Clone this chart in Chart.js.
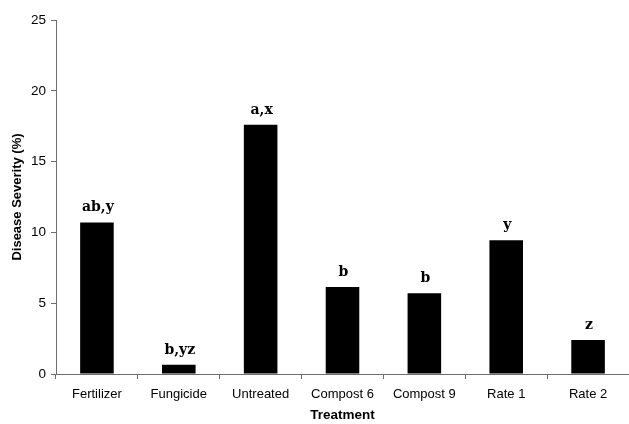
<!DOCTYPE html>
<html>
<head>
<meta charset="utf-8">
<script src="https://cdn.jsdelivr.net/npm/chart.js@4/dist/chart.umd.min.js"></script>
<style>
  html, body { margin: 0; padding: 0; background: #fff; }
  #wrap { width: 629px; height: 424px; position: relative; }
</style>
</head>
<body>
<div id="wrap"><canvas id="c" width="629" height="424"></canvas></div>
<script>
// Treatment groups and mean disease severity (%)
const treatments = ['Fertilizer', 'Fungicide', 'Untreated', 'Compost 6', 'Compost 9', 'Rate 1', 'Rate 2'];
const severity = [10.7, 0.65, 17.6, 6.15, 5.7, 9.45, 2.4];
// Mean-separation letters shown above each bar
const letters = ['ab,y', 'b,yz', 'a,x', 'b', 'b', 'y', 'z'];
const yTicks = [0, 5, 10, 15, 20, 25];

const AXIS = '#6e6e6e';

const letterPlugin = {
  id: 'letters',
  afterDatasetsDraw(chart) {
    const ctx = chart.ctx;
    const meta = chart.getDatasetMeta(0);
    ctx.save();
    ctx.fillStyle = '#000';
    ctx.font = 'bold 14px "DejaVu Serif"';
    ctx.textAlign = 'center';
    ctx.textBaseline = 'alphabetic';
    meta.data.forEach((bar, i) => {
      ctx.fillText(letters[i], bar.x + 1, bar.y - 11);
    });
    ctx.restore();
  }
};

new Chart(document.getElementById('c'), {
  type: 'bar',
  data: {
    labels: treatments,
    datasets: [{
      data: severity,
      backgroundColor: '#000',
      borderWidth: 0,
      categoryPercentage: 1.0,
      barPercentage: 0.41
    }]
  },
  options: {
    responsive: false,
    animation: false,
    devicePixelRatio: 1,
    layout: { padding: { top: 20, right: 0, bottom: 0, left: 0 } },
    plugins: { legend: { display: false }, tooltip: { enabled: false } },
    scales: {
      x: {
        grid: { display: true, drawOnChartArea: false, offset: true, tickLength: 5, color: AXIS },
        border: { display: true, color: AXIS, width: 1 },
        ticks: { color: '#000', font: { family: 'Liberation Sans', size: 13 }, padding: 8, maxRotation: 0 },
        title: { display: true, text: 'Treatment', color: '#000', font: { family: 'Liberation Sans', size: 13.5, weight: 'bold' }, padding: { top: 0, bottom: 1 } },
        afterFit(scale) { scale.height = 50; }
      },
      y: {
        min: 0,
        max: 25,
        afterBuildTicks(scale) { scale.ticks = yTicks.map(v => ({ value: v })); },
        grid: { display: true, drawOnChartArea: false, tickLength: 5, color: AXIS },
        border: { display: true, color: AXIS, width: 1 },
        ticks: { color: '#000', font: { family: 'Liberation Sans', size: 13.5 }, padding: 5 },
        title: { display: true, text: 'Disease Severity (%)', color: '#000', font: { family: 'Liberation Sans', size: 13, weight: 'bold' }, padding: { top: 10, bottom: 0 } },
        afterFit(scale) { scale.width = 56; }
      }
    }
  },
  plugins: [letterPlugin]
});
</script>
</body>
</html>
